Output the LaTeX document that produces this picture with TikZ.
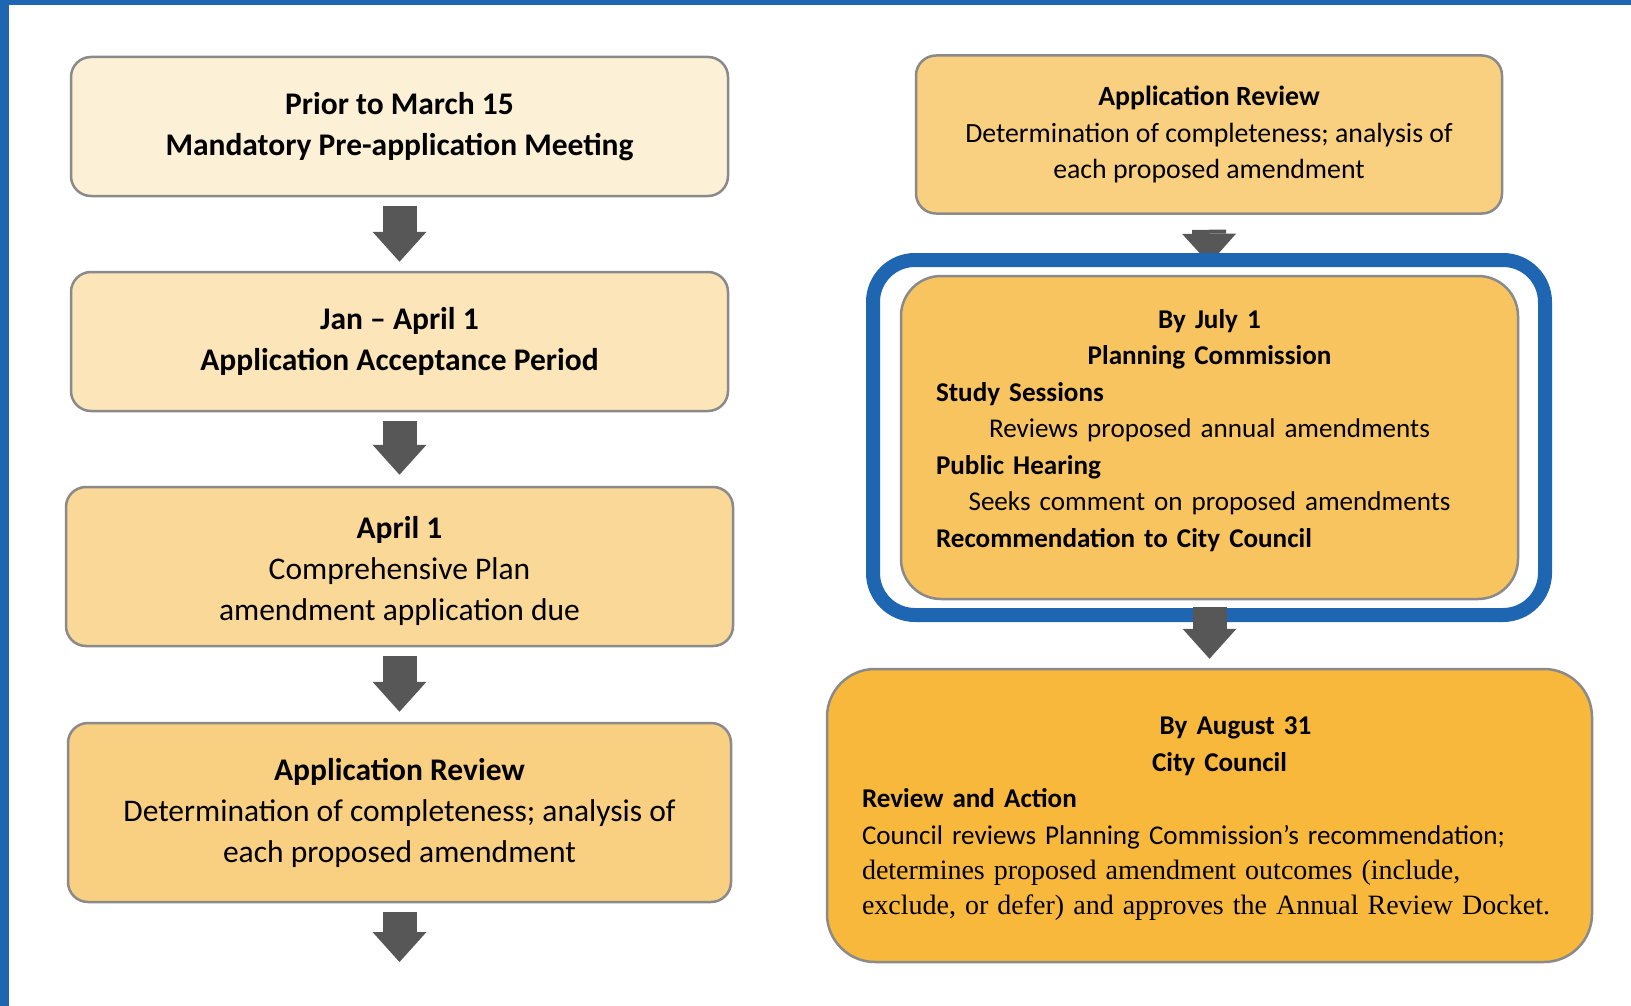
\documentclass[tikz,border=0pt]{standalone}
\usepackage{fontspec}
\setmainfont{Carlito}
\newfontfamily\camb{Liberation Serif}
\usetikzlibrary{arrows.meta,backgrounds}
\setlength{\parindent}{0pt}
\definecolor{rim}{HTML}{1F66B2}
\definecolor{edge}{HTML}{8A8A8A}
\definecolor{flowgrey}{HTML}{575757}
\definecolor{toneA}{HTML}{FCF1D6}
\definecolor{toneB}{HTML}{FBE5B9}
\definecolor{toneC}{HTML}{F9D898}
\definecolor{toneD}{HTML}{F9CF82}
\definecolor{toneE}{HTML}{F9D07F}
\definecolor{toneF}{HTML}{F8C460}
\definecolor{toneG}{HTML}{F7B83B}
\newcommand{\bigtext}{\fontsize{31.5}{41}\selectfont}
\newcommand{\smalltext}{\fontsize{27.8}{36.5}\selectfont}
\newcommand{\panetext}{\fontsize{27.1}{36.5}\selectfont}
\newcommand{\rowmid}[1]{\makebox[\hsize]{#1}\par}
\newcommand{\rowleft}[1]{\makebox[\hsize][l]{#1}\par}
\tikzset{stage/.style={draw=edge, line width=2.5pt, rounded corners=20pt,
                       align=center, inner sep=0pt},
         flow/.style={line width=34pt, color=flowgrey,
                      -{Triangle[width=54pt,length=30pt,line width=0pt]}},
         hilite/.style={draw=rim, fill=white, line width=14pt,
                        rounded corners=42pt}}

\begin{document}
\begin{tikzpicture}[x=1pt,y=-1pt]
\useasboundingbox (0,0) rectangle (1631,1006);
% Blue rim, left and top:
\fill[rim] (0,0) rectangle (9,1006);
\fill[rim] (0,0) rectangle (1631,5);

% Left column:
\node[stage, fill=toneA, minimum width=657pt, minimum height=139pt,
      font=\bigtext\bfseries] (b1) at (399.5,126.5)
      {Prior to March 15\\Mandatory Pre-application Meeting};
\node[stage, fill=toneB, minimum width=657pt, minimum height=139pt,
      font=\bigtext\bfseries] (b2) at (399.5,341.5)
      {Jan -- April 1\\Application Acceptance Period};
\node[stage, fill=toneC, minimum width=667pt, minimum height=159pt,
      font=\bigtext] (b3) at (399.5,566.5)
      {\textbf{April 1}\rule{0pt}{31pt}\\Comprehensive Plan\\amendment application due};
\node[stage, fill=toneD, minimum width=663pt, minimum height=179pt,
      font=\bigtext] (b4) at (399.5,812.5)
      {\textbf{Application Review}\\Determination of completeness; analysis of\\each proposed amendment};
\coordinate (tail) at (399.5,962);

% Right column:
\node[stage, fill=toneE, minimum width=586pt, minimum height=158pt,
      font=\smalltext] (r1) at (1209,134.5)
      {\textbf{Application Review}\\Determination of completeness; analysis of\\each proposed amendment};
\node[hilite, minimum width=672pt, minimum height=355pt] (ring) at (1209,437.5) {};
\node[stage, fill=toneF, rounded corners=40pt, align=left, text width=547pt,
      inner xsep=35pt, minimum height=323pt, font=\panetext] (r2) at (1209.5,437.5)
      {\rowmid{\bfseries By July 1}
       \rowmid{\bfseries Planning Commission}
       \rowleft{\bfseries Study Sessions}
       \rowmid{Reviews proposed annual amendments}
       \rowleft{\bfseries Public Hearing}
       \rowmid{Seeks comment on proposed amendments}
       \rowleft{\bfseries Recommendation to City Council}
       \vspace*{14pt}\hrule height 0pt};
\node[stage, fill=toneG, rounded corners=48pt, align=left, text width=695pt,
      inner xsep=35pt, minimum height=293pt, font=\panetext] (r3) at (1209.5,815.5)
      {\hrule height 0pt\vspace*{6pt}
       \rowmid{\bfseries\hspace*{52pt}By August 31}
       \rowmid{\bfseries\hspace*{20pt}City Council}
       \rowleft{\bfseries Review and Action}
       \rowleft{Council reviews Planning Commission’s recommendation;}
       {\camb\fontsize{28}{35}\selectfont
        \rowleft{determines proposed amendment outcomes (include,}
        \rowleft{exclude, or defer) and approves the Annual Review Docket.}}};

% Arrows:
\draw[flow, shorten <=9pt, shorten >=9pt] (b1.south) -- (b2.north);
\draw[flow, shorten <=9pt, shorten >=11pt] (b2.south) -- (b3.north);
\draw[flow, shorten <=9pt, shorten >=10pt] (b3.south) -- (b4.north);
\draw[flow, shorten <=9pt] (b4.south) -- (tail);
\begin{pgfonlayer}{background}
\draw[flow, shorten <=15pt, shorten >=11pt] (r1.south) -- (r2.north);
\end{pgfonlayer}
\draw[flow, shorten <=7pt, shorten >=9pt] (r2.south) -- (r3.north);
\end{tikzpicture}
\end{document}
